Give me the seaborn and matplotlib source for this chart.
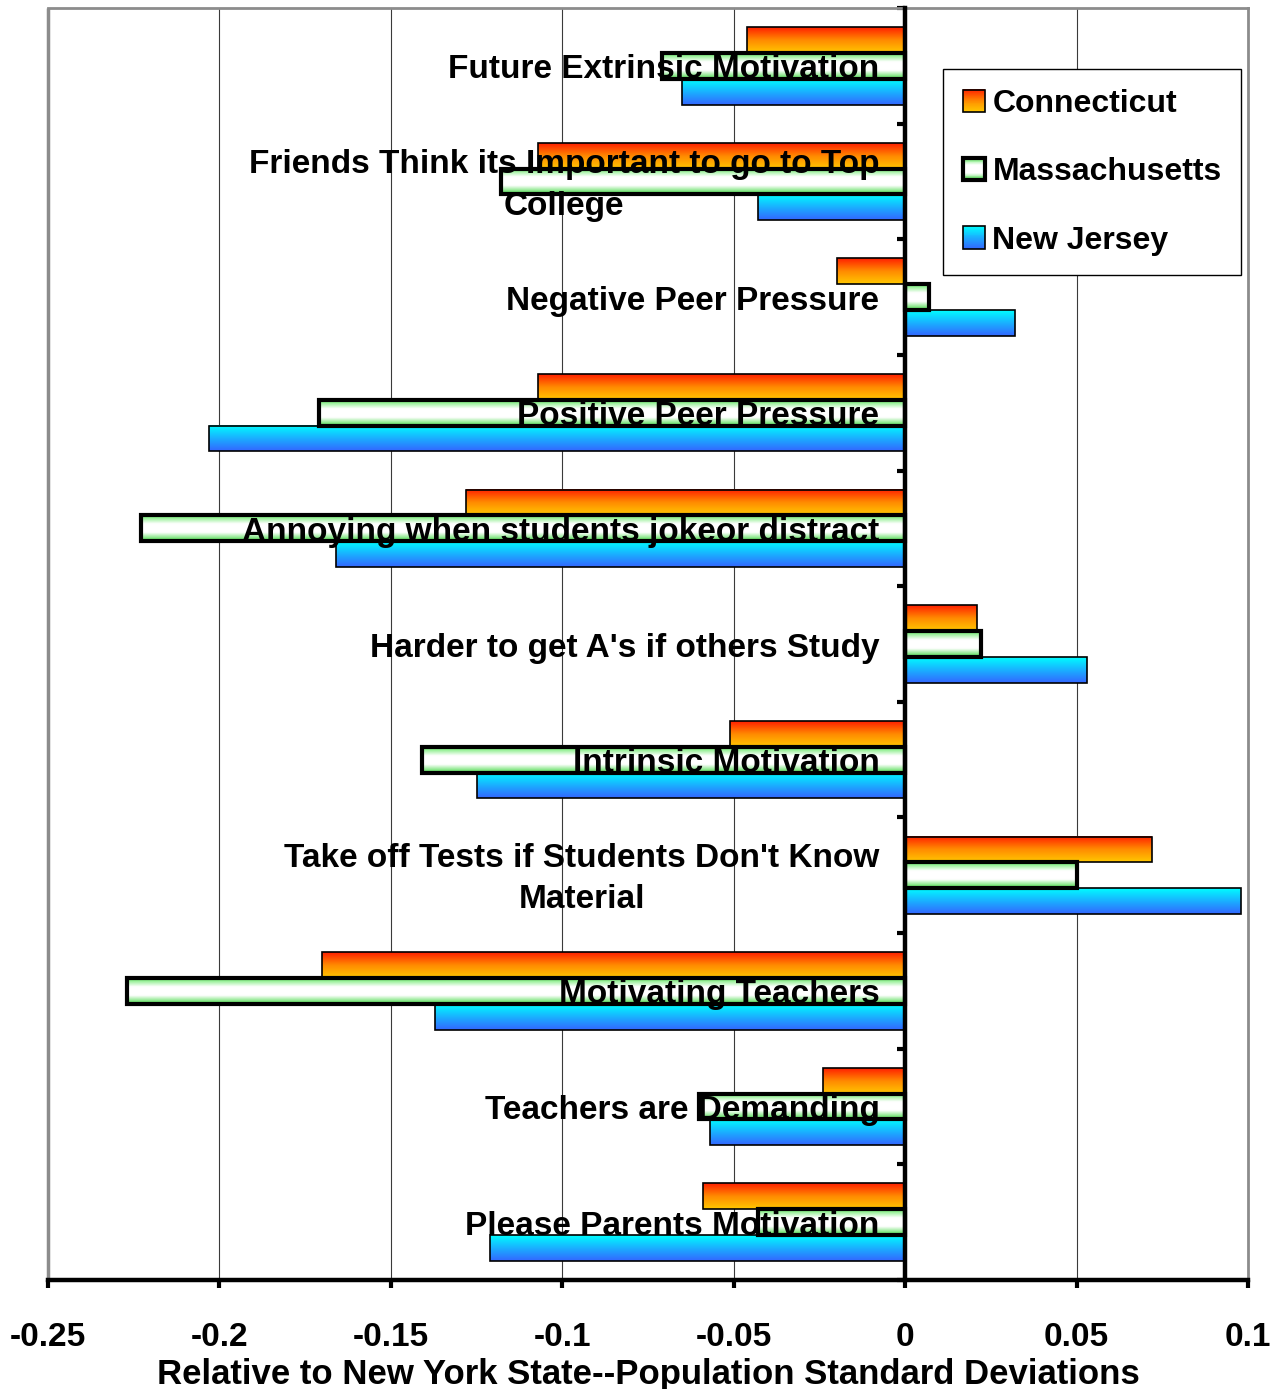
import numpy as np
import pandas as pd
import matplotlib
matplotlib.use("Agg")
import matplotlib.pyplot as plt
import seaborn as sns
from matplotlib.colors import LinearSegmentedColormap
from matplotlib.patches import Rectangle
from matplotlib.legend_handler import HandlerBase

# ---------------- data ----------------
categories = [
    "Future Extrinsic Motivation",
    "Friends Think its Important to go to Top\nCollege",
    "Negative Peer Pressure",
    "Positive Peer Pressure",
    "Annoying when students jokeor distract",
    "Harder to get A's if others Study",
    "Intrinsic Motivation",
    "Take off Tests if Students Don't Know\nMaterial",
    "Motivating Teachers",
    "Teachers are Demanding",
    "Please Parents Motivation",
]
states = ["Connecticut", "Massachusetts", "New Jersey"]
connecticut = [-0.046, -0.107, -0.020, -0.107, -0.128, 0.021, -0.051, 0.072, -0.170, -0.024, -0.059]
massachusetts = [-0.071, -0.118, 0.007, -0.171, -0.223, 0.022, -0.141, 0.050, -0.227, -0.060, -0.043]
new_jersey = [-0.065, -0.043, 0.032, -0.203, -0.166, 0.053, -0.125, 0.098, -0.137, -0.057, -0.121]
x_ticks = [-0.25, -0.2, -0.15, -0.1, -0.05, 0, 0.05, 0.1]
x_tick_labels = ["-0.25", "-0.2", "-0.15", "-0.1", "-0.05", "0", "0.05", "0.1"]
x_label = "Relative to New York State--Population Standard Deviations"

df = pd.DataFrame({
    "category": categories * 3,
    "state": [s for s in states for _ in categories],
    "value": connecticut + massachusetts + new_jersey,
})

# ---------------- style ----------------
sns.set_style("white")
plt.rcParams["font.family"] = ["Liberation Sans", "DejaVu Sans"]
plt.rcParams["font.weight"] = "bold"
plt.rcParams["axes.unicode_minus"] = False
plt.rcParams["text.color"] = "black"
plt.rcParams["axes.labelcolor"] = "black"
plt.rcParams["xtick.color"] = "black"
plt.rcParams["ytick.color"] = "black"

grad_cmaps = {
    "Connecticut": LinearSegmentedColormap.from_list("ct", ["#ff1e00", "#ff8a00", "#ffc800"]),
    "Massachusetts": LinearSegmentedColormap.from_list("ma", ["#5fe85f", "#ffffff", "#ffffff", "#40d840"]),
    "New Jersey": LinearSegmentedColormap.from_list("nj", ["#00ffff", "#1ab0ff", "#3366ff"]),
}
edge_lw = {"Connecticut": 1.2, "Massachusetts": 3.0, "New Jersey": 1.2}

fig = plt.figure(figsize=(12.82, 13.89), dpi=100)
ax = fig.add_axes([48 / 1282, 1 - 1280 / 1389, 1200 / 1282, 1272 / 1389])

sns.barplot(data=df, x="value", y="category", hue="state", hue_order=states,
            order=categories, orient="h", width=0.67, errorbar=None,
            palette=["#ff8000", "#ffffff", "#00aaff"], edgecolor="black",
            linewidth=1.2, legend=False, ax=ax, zorder=3)

# gradient fills
grad = np.linspace(0, 1, 256).reshape(-1, 1)
for state, cont in zip(states, ax.containers):
    cmap = grad_cmaps[state]
    for p in cont.patches:
        x0, w = p.get_x(), p.get_width()
        y0, h = p.get_y(), p.get_height()
        xl, xr = min(x0, x0 + w), max(x0, x0 + w)
        ax.imshow(grad, cmap=cmap, aspect="auto", origin="upper",
                  extent=(xl, xr, y0 + h, y0), zorder=2.5, interpolation="bilinear")
        p.set_facecolor("none")
        p.set_edgecolor("black")
        p.set_linewidth(edge_lw[state])
        p.set_zorder(3)

ax.set_xlim(-0.25, 0.1)
ax.set_ylim(len(categories) - 0.5, -0.5)

# category labels inside the plot
for i, cat in enumerate(categories):
    ax.text(-0.0075, i + 0.035, cat, ha="right", va="center", multialignment="center",
            fontsize=24, fontweight="bold", color="black", zorder=6, linespacing=1.42)

# axes / spines
ax.set_xticks(x_ticks)
ax.set_xticklabels(x_tick_labels, fontsize=24, fontweight="bold")
ax.set_yticks(np.arange(-0.5, len(categories), 1.0))
ax.set_yticklabels([])
ax.set_ylabel("")
ax.set_xlabel(x_label, fontsize=25, fontweight="bold", labelpad=4)
ax.xaxis.grid(True, color="#3a3a3a", linewidth=0.8, zorder=0)
ax.yaxis.grid(False)
ax.set_axisbelow(True)

ax.spines["left"].set_position(("data", 0))
ax.spines["left"].set_linewidth(3.2)
ax.spines["left"].set_color("black")
ax.spines["left"].set_zorder(7)
ax.spines["bottom"].set_linewidth(3.2)
ax.spines["bottom"].set_color("black")
ax.spines["bottom"].set_zorder(7)
ax.spines["top"].set_color("#8c8c8c")
ax.spines["top"].set_linewidth(2)
ax.spines["right"].set_color("#8c8c8c")
ax.spines["right"].set_linewidth(2)
ax.add_patch(Rectangle((0, 0), 0, 1, transform=ax.transAxes, fill=False,
                       edgecolor="#8c8c8c", linewidth=2.5, clip_on=False, zorder=1))
ax.tick_params(axis="y", direction="out", length=6, width=3, left=True, colors="black")
ax.tick_params(axis="x", direction="out", length=6, width=3, bottom=True, pad=24,
               colors="black")


# legend with gradient swatches
class GradHandler(HandlerBase):
    def __init__(self, cmap, lw):
        super().__init__()
        self.cmap = cmap
        self.lw = lw

    def create_artists(self, legend, orig_handle, xdescent, ydescent, width,
                       height, fontsize, trans):
        s = min(width, height)
        x0 = -xdescent + (width - s) / 2
        y0 = -ydescent + (height - s) / 2
        arts = []
        n = 24
        for k in range(n):
            c = self.cmap(1 - (k + 0.5) / n)
            arts.append(Rectangle((x0, y0 + s * k / n), s, s / n + 0.3,
                                  facecolor=c, edgecolor="none", transform=trans))
        arts.append(Rectangle((x0, y0), s, s, facecolor="none", edgecolor="black",
                              linewidth=self.lw, transform=trans))
        return arts


handles = [Rectangle((0, 0), 1, 1) for _ in states]
leg = ax.legend(handles, states,
                handler_map={h: GradHandler(grad_cmaps[s], edge_lw[s])
                             for h, s in zip(handles, states)},
                loc="upper left", bbox_to_anchor=(0.746, 0.952), borderaxespad=0,
                prop={"size": 23, "weight": "bold"}, frameon=True, fancybox=False,
                edgecolor="black", framealpha=1, handlelength=0.7, handleheight=0.7,
                handletextpad=0.22, labelspacing=1.2, borderpad=0.62)
leg.get_frame().set_linewidth(1)
leg.set_zorder(8)
for t in leg.get_texts():
    t.set_color("black")

fig.savefig("out.png", dpi=100)
